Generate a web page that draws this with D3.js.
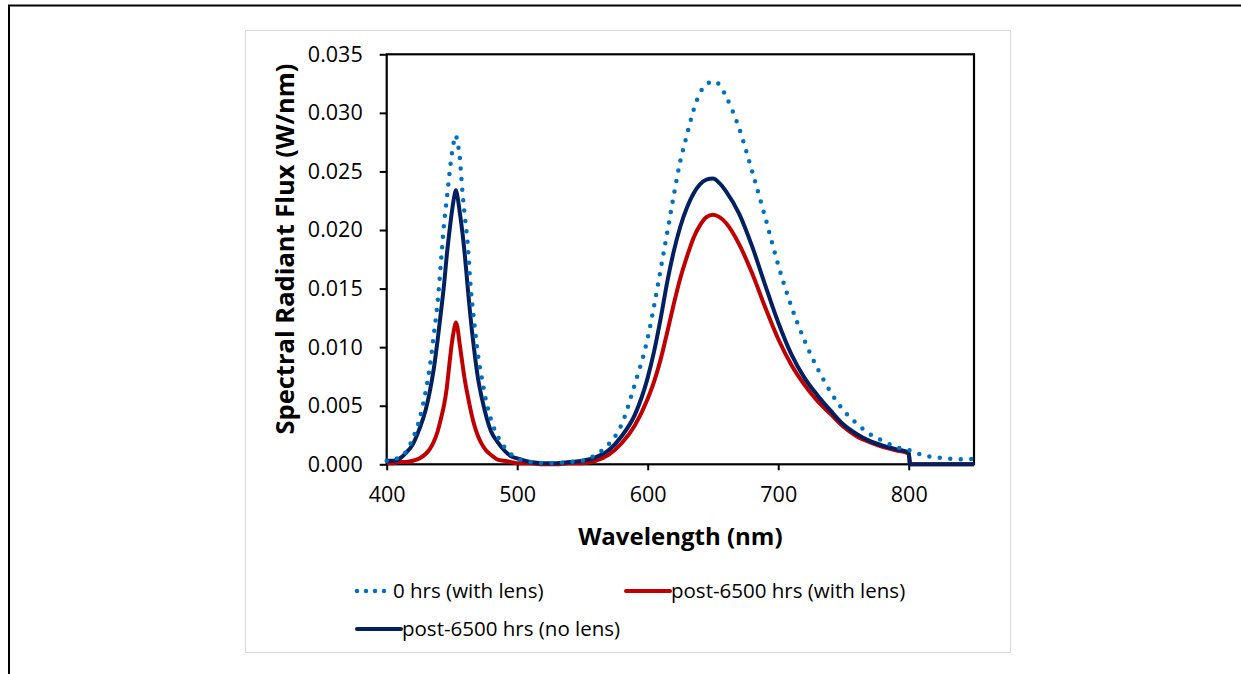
<!DOCTYPE html>
<html lang="en">
<head>
<meta charset="UTF-8">
<title>Spectral radiant flux</title>
<style>
  body { margin: 0; background: #fff; }
  text { font-family: "Open Sans", sans-serif; fill: #000; }
</style>
</head>
<body>
<script src="https://cdn.jsdelivr.net/npm/d3@7/dist/d3.min.js"></script>
<script>
// wavelengths (nm) shared by the three series
var wavelength = [400, 405, 410, 415, 420, 425, 430, 433, 436, 439,
                  442, 444, 446, 448, 450, 452, 453, 454, 456, 458,
                  460, 462, 464, 467, 470, 473, 476, 480, 485, 490,
                  495, 500, 510, 520, 530, 540, 550, 560, 570, 580,
                  590, 600, 605, 610, 615, 620, 625, 630, 635, 640,
                  645, 650, 655, 660, 670, 680, 690, 700, 710, 720,
                  730, 740, 750, 760, 770, 780, 790, 800, 801, 810,
                  820, 830, 840, 850];

var flux0hrs = [0.0003, 0.0004, 0.0006, 0.0011, 0.0022, 0.0038, 0.0063, 0.0083, 0.0110, 0.0138,
                0.0179, 0.0206, 0.0226, 0.0247, 0.0266, 0.0278, 0.0281, 0.0276, 0.0262, 0.0233,
                0.0210, 0.0189, 0.0156, 0.0122, 0.0093, 0.0073, 0.0055, 0.0038, 0.0024, 0.0015,
                0.0009, 0.0005, 0.0002, 0.0001, 0.0001, 0.0002, 0.0003, 0.0008, 0.0017, 0.0034,
                0.0068, 0.0108, 0.0136, 0.0167, 0.0198, 0.0230, 0.0259, 0.0281, 0.0302, 0.0317,
                0.0324, 0.0327, 0.0324, 0.0314, 0.0287, 0.0250, 0.0211, 0.0170, 0.0135, 0.0106,
                0.0082, 0.0062, 0.0046, 0.0035, 0.0026, 0.0020, 0.0015, 0.0012, 0.0012, 0.0008,
                0.0006, 0.0005, 0.00043, 0.00045];

var fluxLens = [0.0001, 0.0001, 0.0002, 0.0002, 0.0003, 0.0005, 0.0009, 0.0013, 0.0019, 0.0028,
                0.0041, 0.0051, 0.0065, 0.0085, 0.0104, 0.0117, 0.0121, 0.0118, 0.0102, 0.0086,
                0.0071, 0.0059, 0.0048, 0.0034, 0.0024, 0.0017, 0.0012, 0.0008, 0.0004, 0.0003,
                0.0002, 0.0001, 0.0001, 0.0000, 0.0000, 0.0001, 0.0001, 0.0003, 0.0008, 0.0018,
                0.0033, 0.0056, 0.0071, 0.0090, 0.0113, 0.0137, 0.0159, 0.0177, 0.0193, 0.0204,
                0.0211, 0.0213, 0.0211, 0.0206, 0.0188, 0.0163, 0.0134, 0.0107, 0.0085, 0.0068,
                0.0054, 0.0043, 0.0032, 0.0024, 0.0019, 0.0015, 0.0012, 0.0009, 0, 0,
                0, 0, 0, 0];

var fluxNoLens = [0.0003, 0.0003, 0.0005, 0.0010, 0.0017, 0.0030, 0.0047, 0.0062, 0.0081, 0.0106,
                  0.0134, 0.0154, 0.0178, 0.0198, 0.0216, 0.0230, 0.0234, 0.0230, 0.0215, 0.0198,
                  0.0177, 0.0152, 0.0128, 0.0098, 0.0073, 0.0056, 0.0042, 0.0028, 0.0019, 0.0012,
                  0.0007, 0.0005, 0.0002, 0.0001, 0.0001, 0.0002, 0.0003, 0.0006, 0.0012, 0.0024,
                  0.0042, 0.0074, 0.0097, 0.0125, 0.0156, 0.0182, 0.0203, 0.0219, 0.0231, 0.0239,
                  0.0243, 0.0244, 0.0240, 0.0233, 0.0214, 0.0186, 0.0153, 0.0121, 0.0094, 0.0074,
                  0.0059, 0.0046, 0.0034, 0.0026, 0.0020, 0.0016, 0.0013, 0.0010, 0, 0,
                  0, 0, 0, 0];

var seriesNames = ["0 hrs (with lens)", "post-6500 hrs (with lens)", "post-6500 hrs (no lens)"];
var seriesColors = ["#0070c0", "#c00000", "#002060"];
var xTicks = [400, 500, 600, 700, 800];
var yTicks = [0, 0.005, 0.010, 0.015, 0.020, 0.025, 0.030, 0.035];

var svg = d3.select("body").append("svg").attr("width", 1241).attr("height", 674);

// outer page frame and chart area border
svg.append("path").attr("d", "M9,674 V5.5 H1241").attr("fill", "none").attr("stroke", "#000").attr("stroke-width", 2);
svg.append("rect").attr("x", 245.5).attr("y", 30.5).attr("width", 765).attr("height", 622)
    .attr("fill", "#fff").attr("stroke", "#d9d9d9").attr("stroke-width", 1);

var plotL = 386.7, plotR = 974, plotT = 54.3, plotB = 464.3;
var x = d3.scaleLinear().domain([400, 850]).range([plotL, plotR]);
var y = d3.scaleLinear().domain([0, 0.035]).range([plotB, plotT]);

var yAxis = svg.append("g").attr("transform", "translate(" + plotL + ",0)")
    .call(d3.axisLeft(y).tickValues(yTicks).tickFormat(d3.format(".3f")).tickSize(7).tickPadding(17));
var xAxis = svg.append("g").attr("transform", "translate(0," + plotB + ")")
    .call(d3.axisBottom(x).tickValues(xTicks).tickSize(6).tickPadding(16));
[xAxis, yAxis].forEach(function(a){
    a.select(".domain").remove();
    a.selectAll("line").attr("stroke", "#000").attr("stroke-width", 2);
    a.selectAll("text").attr("font-size", 21.5).attr("font-family", "Open Sans").attr("fill", "#000");
});

svg.append("rect").attr("x", plotL).attr("y", plotT).attr("width", plotR - plotL).attr("height", plotB - plotT)
    .attr("fill", "none").attr("stroke", "#000").attr("stroke-width", 2.2);

var table = wavelength.map(function(w, i){ return [w, fluxLens[i], fluxNoLens[i], flux0hrs[i]]; });
var line = function(k){
    return d3.line().x(function(d){ return x(d[0]); }).y(function(d){ return y(d[k]); }).curve(d3.curveMonotoneX);
};

// solid series first, dotted on top
svg.append("path").datum(table).attr("d", line(1)).attr("fill", "none")
    .attr("stroke", seriesColors[1]).attr("stroke-width", 4).attr("stroke-linejoin", "round");
svg.append("path").datum(table).attr("d", line(2)).attr("fill", "none")
    .attr("stroke", seriesColors[2]).attr("stroke-width", 4).attr("stroke-linejoin", "round");
svg.append("path").datum(table).attr("d", line(3)).attr("fill", "none")
    .attr("stroke", seriesColors[0]).attr("stroke-width", 4.5).attr("stroke-linecap", "round")
    .attr("stroke-dasharray", "0 10.5");

// axis titles
svg.append("text").attr("x", (plotL + plotR) / 2).attr("y", 545).attr("text-anchor", "middle")
    .attr("font-size", 24).attr("font-weight", "bold").text("Wavelength (nm)");
svg.append("text").attr("transform", "translate(294,249) rotate(-90)").attr("text-anchor", "middle")
    .attr("font-size", 25.5).attr("font-weight", "bold").text("Spectral Radiant Flux (W/nm)");

// legend
var legendPos = [[357, 591], [626, 591], [357, 629]];
var legend = svg.selectAll(".legend").data(seriesNames).enter().append("g")
    .attr("class", "legend")
    .attr("transform", function(d, i){ return "translate(" + legendPos[i][0] + "," + legendPos[i][1] + ")"; });
legend.append("line").attr("x1", 0).attr("x2", function(d, i){ return i == 0 ? 28 : 44; })
    .attr("stroke", function(d, i){ return seriesColors[i]; })
    .attr("stroke-width", function(d, i){ return i == 0 ? 4.5 : 4; })
    .attr("stroke-linecap", "round")
    .attr("stroke-dasharray", function(d, i){ return i == 0 ? "0 9" : null; });
legend.append("text").attr("x", function(d, i){ return i == 0 ? 36 : 45; }).attr("dy", "0.35em")
    .attr("font-size", 20.5).text(function(d){ return d; });
</script>
</body>
</html>
